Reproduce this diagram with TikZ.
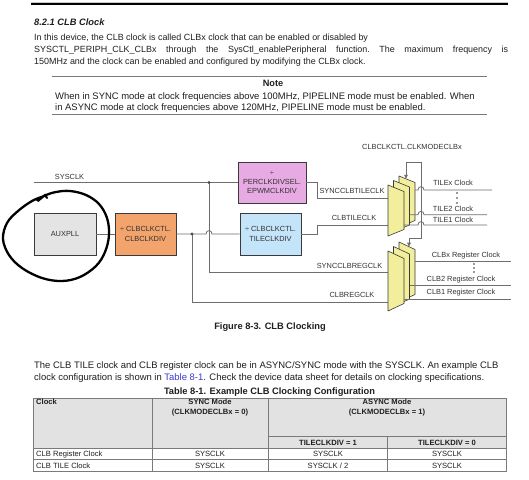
\documentclass[tikz,border=0pt]{standalone}
\usepackage{fontspec}
\setmainfont{Liberation Sans}
\usetikzlibrary{arrows.meta}
\definecolor{wirec}{HTML}{6E6E6E}
\definecolor{boxline}{HTML}{3A3A3A}
\definecolor{auxfill}{HTML}{E4E4E4}
\definecolor{orfill}{HTML}{F2A46C}
\definecolor{pkfill}{HTML}{E8AAE2}
\definecolor{blfill}{HTML}{C4E4FA}
\definecolor{muxfill}{HTML}{F2EE9C}
\definecolor{txt}{HTML}{333333}
\definecolor{rulec}{HTML}{7A7A7A}
\definecolor{hdrfill}{HTML}{E2E2E2}
\definecolor{linkblue}{HTML}{3A3ACF}
\newcommand{\muxpc}[5]{%
  \filldraw[muxst] (#1,#2) -- ({#1+#4},{#2+#5}) -- ({#1+#4},{#3-#5}) -- (#1,#3) -- cycle;}
\begin{document}
\begin{tikzpicture}[x=1pt,y=-1pt,
  bodytxt/.style={font=\fontsize{8.95}{12}\selectfont, inner sep=0pt, anchor=base west, text=black!88},
  bodybig/.style={font=\fontsize{9.45}{12}\selectfont, inner sep=0pt, anchor=base west, text=black!88},
  headtxt/.style={font=\fontsize{9.3}{11}\selectfont\bfseries, inner sep=0pt, anchor=base, text=black!88},
  lbl/.style={font=\fontsize{7.4}{8.6}\selectfont, inner sep=0pt, text=txt},
  blk/.style={draw=boxline, line width=0.9pt, font=\fontsize{7.4}{9.3}\selectfont, text=txt, align=center, inner sep=1pt},
  wire/.style={draw=wirec, line width=0.8pt},
  muxst/.style={fill=muxfill, draw=boxline, line width=0.6pt, line join=round},
  tip/.style={-{Triangle[length=4pt,width=3.6pt]}},
  tbltxt/.style={font=\fontsize{7.6}{9}\selectfont, inner sep=0pt, anchor=base, text=black!88},
  tblhd/.style={font=\fontsize{7.6}{9}\selectfont\bfseries, inner sep=0pt, anchor=base, text=black!88},
  tbll/.style={draw=rulec, line width=0.8pt}]
\useasboundingbox (0,0) rectangle (529,479);
\fill[white] (0,0) rectangle (529,479);

% page header rule
\draw[gray!45, line width=0.6pt] (31,1.8) -- (508,1.8);
\fill[black] (31,3) rectangle (508,5.2);

% heading and first paragraph
\node[bodytxt, font=\fontsize{9.3}{11}\selectfont\bfseries\itshape] (hdg) at (34,25.5) {8.2.1 CLB Clock};
\node[bodytxt] (p1a) at (34,40.5) {In this device, the CLB clock is called CLBx clock that can be enabled or disabled by};
\node[bodytxt] (p1b) at (34,52.5) {\frenchspacing\makebox[474pt][s]{SYSCTL\_PERIPH\_CLK\_CLBx through the SysCtl\_enablePeripheral function. The maximum frequency is}};
\node[bodytxt] (p1c) at (34,64.5) {150MHz and the clock can be enabled and configured by modifying the CLBx clock.};

% note
\draw[rulec, line width=1pt] (52,76) -- (487,76);
\node[headtxt, font=\fontsize{9.2}{11}\selectfont\bfseries] (notehd) at (273,86) {Note};
\node[bodybig] (n1) at (55,99.2) {When in SYNC mode at clock frequencies above 100MHz, PIPELINE mode must be enabled. When};
\node[bodybig] (n2) at (55,110.8) {in ASYNC mode at clock frequencies above 120MHz, PIPELINE mode must be enabled.};
\draw[rulec, line width=1pt] (52,114) -- (487,114);

% ---------- diagram ----------
\node[blk, fill=auxfill, minimum width=62pt, minimum height=42pt] (aux) at (65,234) {AUXPLL};
\node[blk, fill=orfill, minimum width=61pt, minimum height=42pt] (ordiv) at (145.5,234) {÷ CLBCLKCTL.\\CLBCLKDIV};
\node[blk, fill=pkfill, minimum width=68pt, minimum height=41pt] (pkdiv) at (272,182.5) {÷\\PERCLKDIVSEL.\\EPWMCLKDIV};
\node[blk, fill=blfill, minimum width=61pt, minimum height=42pt] (bldiv) at (270.5,234) {÷ CLBCLKCTL.\\TILECLKDIV};

\coordinate (sysL) at (34,182.5);
\coordinate (j1) at (209,182.5);
\coordinate (j2) at (192,234);
\coordinate (stile) at (388,198);
\coordinate (ctile) at (388,225);
\coordinate (sreg) at (388,272);
\coordinate (creg) at (388,302);

\node[lbl] (sysl) at (69.5,177.3) {SYSCLK};
\draw[wire] (sysL) -- (pkdiv.west);
\draw[wire] (aux.east) -- (ordiv.west);
\draw[wire] (ordiv.east) -- (206,234) .. controls (206,229.5) and (212,229.5) .. (212,234) -- (bldiv.west);
\draw[wire] (j1) -- (209,272) -- (sreg);
\draw[wire] (j2) -- (192,302) -- (creg);
\fill[wirec!70!black] (j1) circle (1.7pt);
\fill[wirec!70!black] (j2) circle (1.7pt);

\draw[wire] (pkdiv.east) -- (317,182.5) -- (317,198) -- (stile);
\draw[wire] (bldiv.east) -- (317,234) -- (317,225) -- (ctile);
\node[lbl] (lst) at (352,191) {SYNCCLBTILECLK};
\node[lbl] (lct) at (354,217.5) {CLBTILECLK};
\node[lbl] (lsr) at (349.5,266) {SYNCCLBREGCLK};
\node[lbl] (lcr) at (352,295) {CLBREGCLK};

% muxes
\muxpc{399}{176}{227}{16}{6.5}
\muxpc{393.5}{180.5}{231.5}{16}{6.5}
\muxpc{388}{185}{236}{16}{6.5}
\muxpc{399}{242}{302}{16}{7.5}
\muxpc{393.5}{246.5}{306.5}{16}{7.5}
\muxpc{388}{251}{311}{16}{7.5}

% mode control
\node[lbl] (mode) at (412,147) {CLBCLKCTL.CLKMODECLBx};
\coordinate (ctl) at (421,162);
\draw[wire, tip] (ctl) -- (406,162) -- (406,178.8);
\draw[wire, tip] (ctl) -- (421,238) -- (409,238) -- (409,246.7);

% tile outputs
\coordinate (tx) at (415,190);
\coordinate (t2) at (409.5,214.7);
\coordinate (t1) at (404,225);
\draw[wire] (tx) -- (418,190) .. controls (418,185.5) and (424,185.5) .. (424,190) -- (492,190);
\draw[wire] (t2) -- (418,214.7) .. controls (418,210.2) and (424,210.2) .. (424,214.7) -- (487,214.7);
\draw[wire] (t1) -- (418,225) .. controls (418,220.5) and (424,220.5) .. (424,225) -- (487,225);
\node[lbl] (ltx) at (453,183) {TILEx Clock};
\node[lbl] (lt2) at (453,208.5) {TILE2 Clock};
\node[lbl] (lt1) at (453,219.5) {TILE1 Clock};
\foreach \yy in {193,198,203} \fill[black!80] (457,\yy) circle (0.95pt);

% register outputs
\coordinate (rx) at (415,261.7);
\coordinate (r2) at (409.5,285);
\coordinate (r1) at (404,299);
\draw[wire] (rx) -- (511,261.7);
\draw[wire] (r2) -- (511,285);
\draw[wire] (r1) -- (511,299);
\node[lbl] (lrx) at (466,255.5) {CLBx Register Clock};
\node[lbl] (lr2) at (461,279.5) {CLB2 Register Clock};
\node[lbl] (lr1) at (461,293) {CLB1 Register Clock};
\foreach \yy in {264,268,272} \fill[black!80] (474,\yy) circle (0.95pt);

% hand-drawn circle
\draw[black, line width=2.3pt, line cap=round, line join=round]
  plot[smooth, tension=0.6] coordinates {(37,200) (45,195.5) (56,192) (70,191) (86,195) (99,204) (107,218) (109,235) (105,252) (96,266) (80,277) (62,281) (42,278) (22,268) (9,255) (3,239) (7,223) (18,211) (32,201) (43,196.5)};
\draw[black, line width=2pt, line cap=round] (38,201) -- (45,195) -- (47,198);

% caption
\node[headtxt] (cap) at (270,329) {Figure 8-3. CLB Clocking};

% second paragraph
\node[bodybig] (p2a) at (34,368.5) {The CLB TILE clock and CLB register clock can be in ASYNC/SYNC mode with the SYSCLK. An example CLB};
\node[bodybig] (p2b) at (34,380.5) {clock configuration is shown in {\color{linkblue}Table 8-1}. Check the device data sheet for details on clocking specifications.};

% table
\node[headtxt] (tbt) at (269.5,394.5) {Table 8-1. Example CLB Clocking Configuration};
\fill[hdrfill] (33,398) rectangle (506,448);
\draw[tbll] (33,398) rectangle (506,471.7);
\draw[tbll] (33,448) -- (506,448);
\draw[tbll] (33,459.5) -- (506,459.5);
\draw[tbll] (268,436.7) -- (506,436.7);
\draw[tbll] (152,398) -- (152,471.7);
\draw[tbll] (268,398) -- (268,471.7);
\draw[tbll] (387,436.7) -- (387,471.7);

\node[tblhd, anchor=base west] (hc) at (36,404.5) {Clock};
\node[tblhd] (hs1) at (210,404.5) {SYNC Mode};
\node[tblhd] (hs2) at (210,414.5) {(CLKMODECLBx = 0)};
\node[tblhd] (ha1) at (387,404.5) {ASYNC Mode};
\node[tblhd] (ha2) at (387,414.5) {(CLKMODECLBx = 1)};
\node[tblhd] (ht1) at (328,445.2) {TILECLKDIV = 1};
\node[tblhd] (ht0) at (447,445.2) {TILECLKDIV = 0};

\node[tbltxt, anchor=base west] (r1a) at (36,456.6) {CLB Register Clock};
\node[tbltxt] (r1b) at (210,456.6) {SYSCLK};
\node[tbltxt] (r1c) at (328,456.6) {SYSCLK};
\node[tbltxt] (r1d) at (447,456.6) {SYSCLK};
\node[tbltxt, anchor=base west] (r2a) at (36,468.3) {CLB TILE Clock};
\node[tbltxt] (r2b) at (210,468.3) {SYSCLK};
\node[tbltxt] (r2c) at (328,468.3) {SYSCLK / 2};
\node[tbltxt] (r2d) at (447,468.3) {SYSCLK};
\end{tikzpicture}
\end{document}
